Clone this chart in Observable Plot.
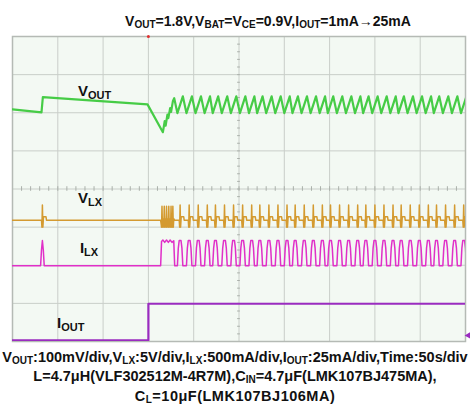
<!DOCTYPE html>
<html><head><meta charset="utf-8">
<script src="https://cdn.jsdelivr.net/npm/d3@7"></script>
<script src="https://cdn.jsdelivr.net/npm/@observablehq/plot@0.6"></script>
<style>
body{margin:0;width:470px;height:405px;overflow:hidden;background:#fff;font-family:"Liberation Sans",Arial,sans-serif;position:relative}
.t{position:absolute;left:0;width:470px;text-align:center;font-weight:bold;font-size:14.5px;line-height:14px;white-space:nowrap;color:#111}
.t sub{font-size:10px;vertical-align:baseline;position:relative;top:2px}
#chart{position:absolute;left:0;top:30px}
</style></head><body>
<div class="t" style="top:14px;font-size:14px;padding-left:66px;box-sizing:border-box">V<sub>OUT</sub>=1.8V,V<sub>BAT</sub>=V<sub>CE</sub>=0.9V,I<sub>OUT</sub>=1mA→25mA</div>
<div id="chart"></div>
<div class="t" style="top:349.5px">V<sub>OUT</sub>:100mV/div,V<sub>LX</sub>:5V/div,I<sub>LX</sub>:500mA/div,I<sub>OUT</sub>:25mA/div,Time:50s/div</div>
<div class="t" style="top:368.5px">L=4.7μH(VLF302512M-4R7M),C<sub>IN</sub>=4.7μF(LMK107BJ475MA),</div>
<div class="t" style="top:389px;letter-spacing:0.5px">C<sub>L</sub>=10μF(LMK107BJ106MA)</div>
<script>
// ---- data (time in s, traces in screen divisions) ----
const xGrid = [0,50,100,150,200,250,300,350,400,450,500];
const yGrid = [0,1,2,3,4,5,6,7,8];
const loadStep = 150;                 // IOUT 1mA -> 25mA
const singlePulse = 33;               // lone switching pulse before the step
const burstSpikes = [165,167.5,170,172.5,175,177];
const pulseTimes = [185,195,205,215,224,234,244,254,264,273,283,293,303,312,322,332,342,351,361,371,381,390,400,410,420,429,439,449,459,468,478,488,498];

// VOUT (ch1) before steady ripple
const voutLeadT = [0, 32, 33.5, 149, 166, 168, 169, 171, 172, 174, 175, 177, 178.5, 182];
const voutLeadV = [6.09, 6.01, 6.41, 6.22, 5.49, 5.78, 5.66, 5.95, 5.86, 6.12, 6.02, 6.3, 6.38, 5.99];
const voutHigh = 6.43, voutLow = 5.99;

// VLX (ch2)
const vlxBase = 3.18, vlxTop = 3.58, vlxDip = 3.0, vlxShelf = 3.27;
// ILX (ch3)
const ilxBase = 1.99, ilxTop = 2.65;
const ilxBurstT = [163.5,164.5,166,168,170,172,174,176,178,179];
const ilxBurstV = [1.99,2.62,2.66,2.6,2.66,2.6,2.66,2.6,2.64,1.99];
// IOUT (ch4)
const ioutLow = 0.03, ioutHigh = 0.99;

const labels = [
  {t: 72.8, y: 6.43, main: "V", sub: "OUT"},
  {t: 72.8, y: 3.62, main: "V", sub: "LX"},
  {t: 75,   y: 2.31, main: "I", sub: "LX"},
  {t: 49.7, y: 0.34, main: "I", sub: "OUT"}
];

// ---- build traces ----
const vout = voutLeadT.map((t,i)=>({t, v: voutLeadV[i]}));
for (const p of pulseTimes) vout.push({t:p-3, v:voutLow}, {t:p+3, v:voutHigh});

const vlx = [{t:0, v:vlxBase}];
function vlxPulse(p){ vlx.push({t:p-1,v:vlxBase},{t:p-0.5,v:vlxDip},{t:p,v:vlxTop},{t:p+0.5,v:vlxDip},{t:p+1.2,v:vlxShelf},{t:p+4,v:vlxShelf},{t:p+4.5,v:vlxBase}); }
vlxPulse(singlePulse);
vlx.push({t:163.5, v:vlxBase});
for (const s of burstSpikes) vlx.push({t:s-0.5,v:vlxDip},{t:s,v:vlxTop-0.03},{t:s+0.5,v:vlxDip},{t:s+1,v:vlxShelf-0.05});
vlx.push({t:179, v:vlxBase});
for (const p of pulseTimes) vlxPulse(p);

const ilx = [{t:0,v:ilxBase},{t:singlePulse-2,v:ilxBase},{t:singlePulse-1,v:2.4},{t:singlePulse,v:ilxTop},{t:singlePulse+1,v:2.4},{t:singlePulse+2,v:ilxBase}];
ilxBurstT.forEach((t,i)=>ilx.push({t, v:ilxBurstV[i]}));
for (const p of pulseTimes) ilx.push({t:p-3,v:ilxBase},{t:p-2,v:2.45},{t:p-1,v:ilxTop},{t:p+1,v:ilxTop},{t:p+2,v:2.45},{t:p+3,v:ilxBase});

const iout = [{t:0,v:ioutLow},{t:loadStep,v:ioutLow},{t:loadStep,v:ioutHigh},{t:500,v:ioutHigh}];

const minorX = d3.range(0, 501, 10);
const minorY = d3.range(0, 8.01, 0.2);

const gridC = "#c9cec9";
const plot = Plot.plot({
  width: 470, height: 315,
  marginLeft: 12, marginRight: 5, marginTop: 6, marginBottom: 4,
  x: {domain: [0, 500], axis: null},
  y: {domain: [0, 8], axis: null},
  style: {background: "transparent", overflow: "visible"},
  marks: [
    Plot.frame({fill: "#f3f9f3", stroke: null}),
    Plot.ruleX(xGrid, {x: d=>d, stroke: gridC, strokeWidth: 1}),
    Plot.ruleY(yGrid, {y: d=>d, stroke: gridC, strokeWidth: 1}),
    Plot.ruleX(minorX, {x: d=>d, y1: 3.94, y2: 4.06, stroke: "#aab0aa"}),
    Plot.ruleY(minorY, {y: d=>d, x1: 248.5, x2: 251.5, stroke: "#aab0aa"}),
    Plot.frame({stroke: "#b5bab5", strokeWidth: 1.5}),
    Plot.line(iout, {x:"t", y:"v", stroke:"#9a2cc0", strokeWidth:2.2, clip:true}),
    Plot.line(ilx, {x:"t", y:"v", stroke:"#e030c8", strokeWidth:1.5, clip:true}),
    Plot.line(vlx, {x:"t", y:"v", stroke:"#d49a30", strokeWidth:1.5, clip:true}),
    Plot.line(vout, {x:"t", y:"v", stroke:"#46cc46", strokeWidth:2.2, clip:true}),
    Plot.dot([loadStep], {x: d=>d, y: ()=>8, r: 1.5, fill: "#e03030", stroke: null}),
    Plot.dot([ioutLow], {x: ()=>500, y: d=>d+0.13, dx: 3, r: 2.5, symbol: "triangle", rotate: -90, fill: "#9a2cc0", stroke: null})
  ]
});
document.getElementById("chart").appendChild(plot);

const sx = plot.scale("x"), sy = plot.scale("y");
const svg = d3.select(plot);
for (const l of labels) {
  const tx = svg.append("text")
    .attr("x", sx.apply(l.t)).attr("y", sy.apply(l.y))
    .attr("text-anchor", "start")
    .attr("font-family", "Liberation Sans, Arial, sans-serif")
    .attr("font-weight", "bold").attr("font-size", 15).attr("fill", "#111");
  tx.append("tspan").text(l.main);
  tx.append("tspan").attr("font-size", 11).attr("dy", 3).text(l.sub);
}
</script>
</body></html>
